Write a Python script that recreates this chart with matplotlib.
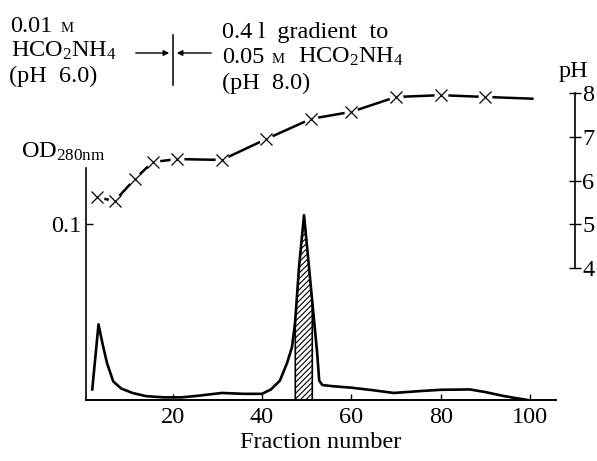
import numpy as np
import matplotlib
matplotlib.use("Agg")
import matplotlib.pyplot as plt

plt.rcParams['font.family'] = ['Liberation Serif', 'DejaVu Serif']
plt.rcParams['mathtext.fontset'] = 'custom'
plt.rcParams['mathtext.rm'] = 'Liberation Serif'
plt.rcParams['mathtext.it'] = 'Liberation Serif:italic'
plt.rcParams['hatch.linewidth'] = 0.8

# ---- data ----
od_fraction = [2.0, 3.4, 4.3, 5.3, 6.7, 8.5, 11, 14, 18, 22, 26, 31, 36, 40, 42, 44,
               45.6, 46.7, 47.4, 48.3, 49.4, 50.5, 51.2, 52.3, 52.8, 53.5, 56, 60, 65,
               69.5, 75, 80, 86.5, 90, 94, 97, 99.5]
od_value = [0.006, 0.043, 0.032, 0.021, 0.0105, 0.0065, 0.004, 0.0022, 0.0015, 0.0015,
            0.0025, 0.004, 0.0035, 0.0035, 0.006, 0.011, 0.021, 0.030, 0.044, 0.076,
            0.105, 0.076, 0.057, 0.028, 0.011, 0.0085, 0.0078, 0.007, 0.0055, 0.004,
            0.005, 0.0058, 0.006, 0.0045, 0.0023, 0.001, 0.0]

ph_fraction = [3, 7, 11.5, 15.5, 21, 31, 41, 51, 60, 70, 80, 90]
ph_value = [5.62, 5.53, 6.03, 6.42, 6.49, 6.47, 6.95, 7.41, 7.57, 7.91, 7.95, 7.91]
ph_line_end = (100.5, 7.87)

hatch_range = (47.4, 51.2)

x_ticks = [20, 40, 60, 80, 100]
od_ticks = [0.1]
ph_ticks = [4, 5, 6, 7, 8]

W, H = 597, 461
FS = 17.5
fig = plt.figure(figsize=(W / 100, H / 100), dpi=100)
ax = fig.add_axes([86 / W, (H - 400) / H, (556 - 86) / W, (400 - 85) / H])
ax2 = ax.twinx()

# OD curve
ax.plot(od_fraction, od_value, color='black', lw=1.9, solid_joinstyle='round', zorder=3)
xs = np.linspace(hatch_range[0], hatch_range[1], 50)
ys = np.interp(xs, od_fraction, od_value)
ax.fill_between(xs, 0, ys, facecolor='white', edgecolor='black', hatch='//////',
                linewidth=0.8, zorder=2)
ax.plot([hatch_range[0]] * 2, [0, np.interp(hatch_range[0], od_fraction, od_value)],
        color='black', lw=0.9, zorder=2)
ax.plot([hatch_range[1]] * 2, [0, np.interp(hatch_range[1], od_fraction, od_value)],
        color='black', lw=0.9, zorder=2)

ax.set_xlim(0.6, 105.8)
ax.set_ylim(0, 0.179)
ax.spines['top'].set_visible(False)
ax.spines['right'].set_visible(False)
ax.spines['left'].set_bounds(0, 0.132)
ax.spines['left'].set_linewidth(1.2)
ax.spines['bottom'].set_linewidth(1.4)
ax.set_xticks(x_ticks)
ax.set_yticks(od_ticks)
ax.set_yticklabels(['0.1'])
ax.tick_params(axis='x', direction='in', length=4, width=1, labelsize=FS, pad=5)
ax.tick_params(axis='y', direction='in', length=5, width=1, labelsize=FS, pad=3)
ax.set_xlabel('Fraction number', fontsize=FS, labelpad=3)

# pH curve
px = ph_fraction + [ph_line_end[0]]
py = ph_value + [ph_line_end[1]]
ax2.plot(px, py, color='black', lw=1.8, zorder=2)
ax2.plot(ph_fraction, ph_value, linestyle='none', marker='o', markersize=9,
         markerfacecolor='white', markeredgecolor='white', zorder=3)
ax2.plot(ph_fraction, ph_value, linestyle='none', marker='x', markersize=9,
         markeredgewidth=0.9, color='black', zorder=4)
ax2.set_ylim(0.983, 8.183)
for s in ['top', 'left', 'bottom']:
    ax2.spines[s].set_visible(False)
ax2.spines['right'].set_bounds(4, 8)
ax2.spines['right'].set_linewidth(1.2)
ax2.spines['right'].set_position(('data', 0.6 + (575 - 86) / 4.467))
ax2.set_yticks(ph_ticks)
ax2.tick_params(axis='y', direction='inout', length=8, width=1, labelsize=FS, pad=1)

# labels
def ftext(x, y, s, size=FS, **kw):
    fig.text(x / W, 1 - y / H, s, fontsize=size, va='baseline', ha='left', **kw)

ftext(21, 158, r'OD$_\mathrm{280nm}$', FS)
ftext(559, 77, 'pH', FS)

# top annotations
ftext(10, 32, '0.01', FS)
ftext(61, 32, 'M', 10.5)
ftext(11, 57, r'HCO$_\mathrm{2}$NH$_\mathrm{4}$', FS)
ftext(9, 82, '(pH  6.0)', FS)

ftext(222, 38, '0.4 l  gradient  to', FS)
ftext(222, 63, '0.05', FS)
ftext(272, 63, 'M', 10.5)
ftext(298, 63, r'HCO$_\mathrm{2}$NH$_\mathrm{4}$', FS)
ftext(222, 89, '(pH  8.0)', FS)

# arrows and divider
ax_over = fig.add_axes([0, 0, 1, 1], facecolor='none')
ax_over.set_xlim(0, W)
ax_over.set_ylim(H, 0)
ax_over.axis('off')
ax_over.plot([173, 173], [35, 85], color='black', lw=1.1)
ax_over.annotate('', xy=(172, 53), xytext=(133, 53),
                 arrowprops=dict(arrowstyle='-|>', color='black', lw=1, mutation_scale=8))
ax_over.annotate('', xy=(174, 53), xytext=(214, 53),
                 arrowprops=dict(arrowstyle='-|>', color='black', lw=1, mutation_scale=8))

fig.savefig('out.png', dpi=100)
